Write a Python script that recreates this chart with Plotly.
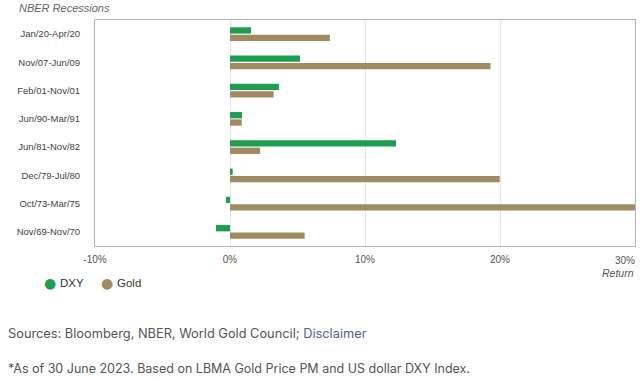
import plotly.graph_objects as go

categories = ["Jan/20-Apr/20", "Nov/07-Jun/09", "Feb/01-Nov/01", "Jun/90-Mar/91",
              "Jun/81-Nov/82", "Dec/79-Jul/80", "Oct/73-Mar/75", "Nov/69-Nov/70"]
dxy = [1.56, 5.19, 3.62, 0.89, 12.3, 0.2, -0.3, -1.04]
gold = [7.4, 19.3, 3.23, 0.87, 2.23, 19.98, 30.2, 5.53]
tick_vals = [-10, 0, 10, 20, 30]
tick_text = ["-10%", "0%", "10%", "20%", "30%"]
series_names = ["DXY", "Gold"]

GREEN = "#1f9d50"
GOLD = "#a08b62"

W, H = 640, 381
L, R, T, B = 95, 5, 20, 135
PW, PH = W - L - R, H - T - B


def px(x):
    return (x - L) / PW


def py(y):
    return (H - B - y) / PH


fig = go.Figure()
fig.add_trace(go.Bar(y=categories, x=dxy, orientation="h", name=series_names[0],
                     marker=dict(color=GREEN, line=dict(width=0))))
fig.add_trace(go.Bar(y=categories, x=gold, orientation="h", name=series_names[1],
                     marker=dict(color=GOLD, line=dict(width=0))))

annotations = [
    dict(text="<i>NBER Recessions</i>", x=px(17), y=py(8), xanchor="left", yanchor="middle",
         font=dict(size=11, color="#666")),
    dict(text="<i>Return</i>", x=px(636), y=py(273), xanchor="right", yanchor="middle",
         font=dict(size=10.5, color="#555")),
    dict(text="Sources: Bloomberg, NBER, World Gold Council; <span style='color:#51638c'>Disclaimer</span>",
         x=px(6), y=py(333), xanchor="left", yanchor="middle",
         font=dict(family="Inter, Open Sans, sans-serif", size=12.8, color="#555")),
    dict(text="*As of 30 June 2023. Based on LBMA Gold Price PM and US dollar DXY Index.",
         x=px(6), y=py(368), xanchor="left", yanchor="middle",
         font=dict(family="Inter, Open Sans, sans-serif", size=12.5, color="#555")),
]
# legend (circle markers + labels)
for name, color, cx in [(series_names[0], GREEN, 50), (series_names[1], GOLD, 107)]:
    annotations.append(dict(text="●", x=px(cx), y=py(283), xanchor="center", yanchor="middle",
                            font=dict(family="DejaVu Sans", size=14, color=color)))
    annotations.append(dict(text=name, x=px(cx + 8), y=py(283), xanchor="left", yanchor="middle",
                            font=dict(family="Liberation Sans, Arial, sans-serif", size=11.5,
                                      color="#333")))
for a in annotations:
    a.update(xref="paper", yref="paper", showarrow=False)

# last tick label, right-aligned at its tick (plot edge), as in the reference
annotations.append(dict(text=tick_text[-1], x=tick_vals[-1], xref="x", y=py(260), yref="paper",
                        xanchor="right", yanchor="middle", showarrow=False, xshift=2,
                        font=dict(size=10, color="#555")))

fig.update_layout(
    width=W, height=H,
    margin=dict(l=L, r=R, t=T, b=B, autoexpand=False),
    paper_bgcolor="white", plot_bgcolor="white",
    barmode="group", bargap=0.48, bargroupgap=0.14,
    font=dict(family="Liberation Sans, Arial, sans-serif", size=10, color="#555"),
    showlegend=False,
    xaxis=dict(range=[-10, 30], tickvals=tick_vals,
               ticktext=tick_text[:-1] + [""],
               showgrid=True, gridcolor="#e3e3e3", gridwidth=1, zeroline=False,
               showline=True, linecolor="#b5b5b5", linewidth=1, mirror=True,
               ticks="outside", ticklen=4, tickcolor="rgba(0,0,0,0)",
               automargin=False,
               tickfont=dict(size=10, color="#555")),
    yaxis=dict(type="category", autorange="reversed", showgrid=False, zeroline=False,
               showline=True, linecolor="#b5b5b5", linewidth=1, mirror=True,
               ticks="outside", ticklen=12, tickcolor="rgba(0,0,0,0)",
               automargin=False,
               tickfont=dict(size=9.5, color="#444")),
    annotations=annotations,
)

fig.write_html("out.html", config={"displayModeBar": False},
               post_script="document.body.style.margin='0';")
